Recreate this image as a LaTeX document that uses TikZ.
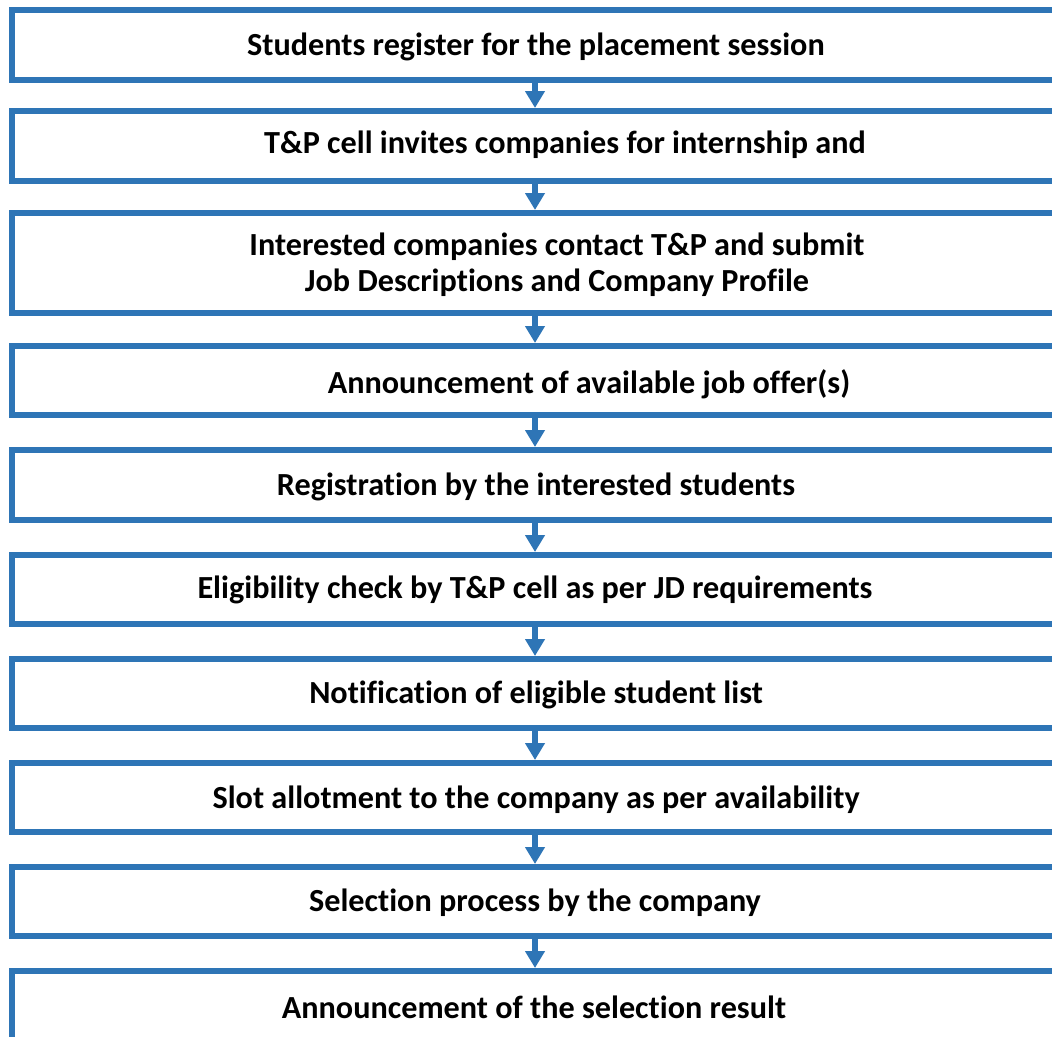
\documentclass[tikz,border=0pt]{standalone}
\usepackage{fontspec}
\setmainfont[Ligatures=NoCommon]{Carlito}
\usetikzlibrary{arrows.meta,positioning}
\definecolor{flowblue}{RGB}{46,117,182}

\begin{document}
\begin{tikzpicture}[x=1pt,y=-1pt,
  stepbox/.style={draw=flowblue,line width=6pt,minimum width=1048pt,inner sep=0pt,outer sep=0pt,anchor=north west},
  steptext/.style={font=\fontsize{32.2}{36}\selectfont\bfseries,align=center,inner sep=0pt},
  flowarrow/.style={draw=flowblue,line width=6pt,shorten >=3pt,-{Triangle[width=19pt,length=17pt]}}]
\clip (0,0) rectangle (1052,1036);
% boxes
\node[stepbox,minimum height=70pt] (b1) at (12,10) {};
\node[stepbox,minimum height=70pt] (b2) at (12,111) {};
\node[stepbox,minimum height=100pt] (b3) at (12,213) {};
\node[stepbox,minimum height=69pt] (b4) at (12,346) {};
\node[stepbox,minimum height=70pt] (b5) at (12,450) {};
\node[stepbox,minimum height=69pt] (b6) at (12,555) {};
\node[stepbox,minimum height=69pt] (b7) at (12,659) {};
\node[stepbox,minimum height=69pt] (b8) at (12,763) {};
\node[stepbox,minimum height=69pt] (b9) at (12,867) {};
\node[stepbox,minimum height=80pt] (b10) at (12,971) {};
% texts
\node[steptext] (t1) at (536,47) {Students register for the placement session};
\node[steptext] (t2) at (565,145) {T\&P cell invites companies for internship and};
\node[steptext] (t3) at (557,265) {Interested companies contact T\&P and submit\\Job Descriptions and Company Profile};
\node[steptext] (t4) at (589,384) {Announcement of available job offer(s)};
\node[steptext] (t5) at (536,487) {Registration by the interested students};
\node[steptext] (t6) at (535,590) {Eligibility check by T\&P cell as per JD requirements};
\node[steptext] (t7) at (536,695) {Notification of eligible student list};
\node[steptext] (t8) at (536,800) {Slot allotment to the company as per availability};
\node[steptext] (t9) at (535,903) {Selection process by the company};
\node[steptext] (t10) at (534,1007) {Announcement of the selection result};
% arrows
\foreach \a/\b in {b1/b2,b2/b3,b3/b4,b4/b5,b5/b6,b6/b7,b7/b8,b8/b9,b9/b10}
  \draw[flowarrow] ([xshift=-1pt]\a.south) -- ([xshift=-1pt]\b.north);
\end{tikzpicture}
\end{document}
